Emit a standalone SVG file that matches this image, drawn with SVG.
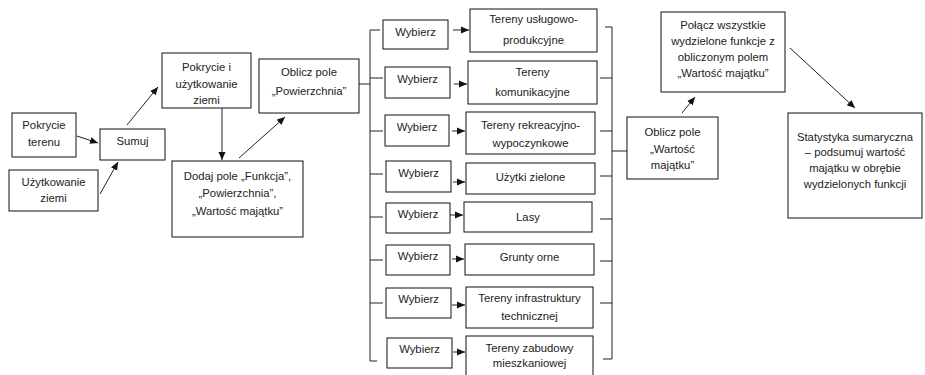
<svg xmlns="http://www.w3.org/2000/svg" width="925" height="375" viewBox="0 0 925 375">
<defs>
<marker id="ah" markerUnits="userSpaceOnUse" markerWidth="9" markerHeight="8" refX="8" refY="4" orient="auto">
<path d="M0,0.5 L8,4 L0,7.5 Z" fill="#111"/>
</marker>
<style>
rect{fill:#fff;stroke:#111;stroke-width:1}
text{font-family:"Liberation Sans",Arial,sans-serif;font-size:11.3px;fill:#222;text-anchor:middle}
.c line,.c path{stroke:#222;stroke-width:1;fill:none}
.a{marker-end:url(#ah)}
</style>
</defs>
<rect x="0" y="0" width="925" height="375" style="fill:#fff;stroke:none"/>
<g class="c" id="connectors">
<line class="a" x1="77" y1="136" x2="98" y2="143"/>
<line class="a" x1="100" y1="194" x2="118" y2="162"/>
<line class="a" x1="127" y1="125" x2="158" y2="87"/>
<line class="a" x1="222" y1="108" x2="222" y2="160"/>
<line class="a" x1="239" y1="158" x2="285" y2="117"/>
<line x1="359" y1="84" x2="370" y2="84"/>
<path d="M380,30 H370 V361 H377"/>
<line x1="370" y1="78" x2="383" y2="78"/>
<line x1="370" y1="131" x2="383" y2="131"/>
<line x1="370" y1="174" x2="383" y2="174"/>
<line x1="370" y1="217" x2="383" y2="217"/>
<line x1="370" y1="260" x2="383" y2="260"/>
<line x1="370" y1="303" x2="383" y2="303"/>
<line class="a" x1="453" y1="30" x2="469" y2="30"/>
<line class="a" x1="454" y1="84" x2="467" y2="84"/>
<line class="a" x1="452" y1="131" x2="465" y2="131"/>
<line class="a" x1="453" y1="182" x2="465" y2="182"/>
<line class="a" x1="450" y1="215" x2="463" y2="215"/>
<line class="a" x1="452" y1="259" x2="464" y2="259"/>
<line class="a" x1="452" y1="305" x2="465" y2="305"/>
<line class="a" x1="453" y1="352" x2="465" y2="352"/>
<path d="M605,27 H612 V359 H603"/>
<line x1="600" y1="78" x2="612" y2="78"/>
<line x1="600" y1="131" x2="612" y2="131"/>
<line x1="600" y1="176" x2="612" y2="176"/>
<line x1="600" y1="219" x2="612" y2="219"/>
<line x1="600" y1="261" x2="612" y2="261"/>
<line x1="600" y1="303" x2="612" y2="303"/>
<line x1="612" y1="151" x2="627" y2="151"/>
<line class="a" x1="682" y1="113" x2="695" y2="97"/>
<line class="a" x1="790" y1="48" x2="855" y2="108"/>
</g>
<g id="n1"><rect x="12" y="113" width="64" height="44"/><text x="44" y="129">Pokrycie</text><text x="44" y="146">terenu</text></g>
<g id="n2"><rect x="9" y="170" width="89" height="41"/><text x="53.5" y="186">Użytkowanie</text><text x="53.5" y="202">ziemi</text></g>
<g id="n3"><rect x="100" y="129" width="65" height="31"/><text x="132.5" y="145">Sumuj</text></g>
<g id="n4"><rect x="162" y="53" width="89" height="55"/><text x="206.5" y="71">Pokrycie i</text><text x="206.5" y="88">użytkowanie</text><text x="206.5" y="104">ziemi</text></g>
<g id="n5"><rect x="172" y="161" width="131" height="76"/><text x="237.5" y="180">Dodaj pole „Funkcja”,</text><text x="237.5" y="197">„Powierzchnia”,</text><text x="237.5" y="215">„Wartość majątku”</text></g>
<g id="n6"><rect x="259" y="59" width="100" height="54"/><text x="309" y="76">Oblicz pole</text><text x="309" y="95">„Powierzchnia”</text></g>
<g id="w1"><rect x="383" y="20" width="65" height="29"/><text x="415.5" y="36">Wybierz</text></g>
<g id="w2"><rect x="385" y="67" width="65" height="31"/><text x="417.5" y="83">Wybierz</text></g>
<g id="w3"><rect x="385" y="115" width="64" height="31"/><text x="417" y="131">Wybierz</text></g>
<g id="w4"><rect x="386" y="161" width="65" height="31"/><text x="418.5" y="177">Wybierz</text></g>
<g id="w5"><rect x="386" y="203" width="64" height="30"/><text x="418" y="218">Wybierz</text></g>
<g id="w6"><rect x="386" y="245" width="64" height="30"/><text x="418" y="260">Wybierz</text></g>
<g id="w7"><rect x="386" y="288" width="65" height="30"/><text x="418.5" y="303">Wybierz</text></g>
<g id="w8"><rect x="387" y="338" width="65" height="30"/><text x="419.5" y="353">Wybierz</text></g>
<g id="t1"><rect x="470" y="9" width="127" height="43"/><text x="533.5" y="23">Tereny usługowo-</text><text x="533.5" y="44">produkcyjne</text></g>
<g id="t2"><rect x="468" y="61" width="129" height="43"/><text x="532.5" y="76">Tereny</text><text x="532.5" y="96">komunikacyjne</text></g>
<g id="t3"><rect x="466" y="112" width="129" height="42"/><text x="530.5" y="129">Tereny rekreacyjno-</text><text x="530.5" y="147">wypoczynkowe</text></g>
<g id="t4"><rect x="466" y="163" width="129" height="31"/><text x="530.5" y="181">Użytki zielone</text></g>
<g id="t5"><rect x="464" y="202" width="128" height="30"/><text x="528" y="221">Lasy</text></g>
<g id="t6"><rect x="465" y="244" width="129" height="31"/><text x="529.5" y="261">Grunty orne</text></g>
<g id="t7"><rect x="466" y="287" width="127" height="41"/><text x="529.5" y="302">Tereny infrastruktury</text><text x="529.5" y="320">technicznej</text></g>
<g id="t8"><rect x="466" y="336" width="127" height="42"/><text x="529.5" y="352">Tereny zabudowy</text><text x="529.5" y="367">mieszkaniowej</text></g>
<g id="n7"><rect x="627" y="117" width="91" height="62"/><text x="672.5" y="136">Oblicz pole</text><text x="672.5" y="153">„Wartość</text><text x="672.5" y="169">majątku”</text></g>
<g id="n8"><rect x="661" y="12" width="124" height="80"/><text x="723" y="29">Połącz wszystkie</text><text x="723" y="45">wydzielone funkcje z</text><text x="723" y="61">obliczonym polem</text><text x="723" y="77">„Wartość majątku”</text></g>
<g id="n9"><rect x="788" y="113" width="134" height="105"/><text x="855" y="141">Statystyka sumaryczna</text><text x="855" y="156">– podsumuj wartość</text><text x="855" y="172">majątku w obrębie</text><text x="855" y="188">wydzielonych funkcji</text></g>
</svg>
